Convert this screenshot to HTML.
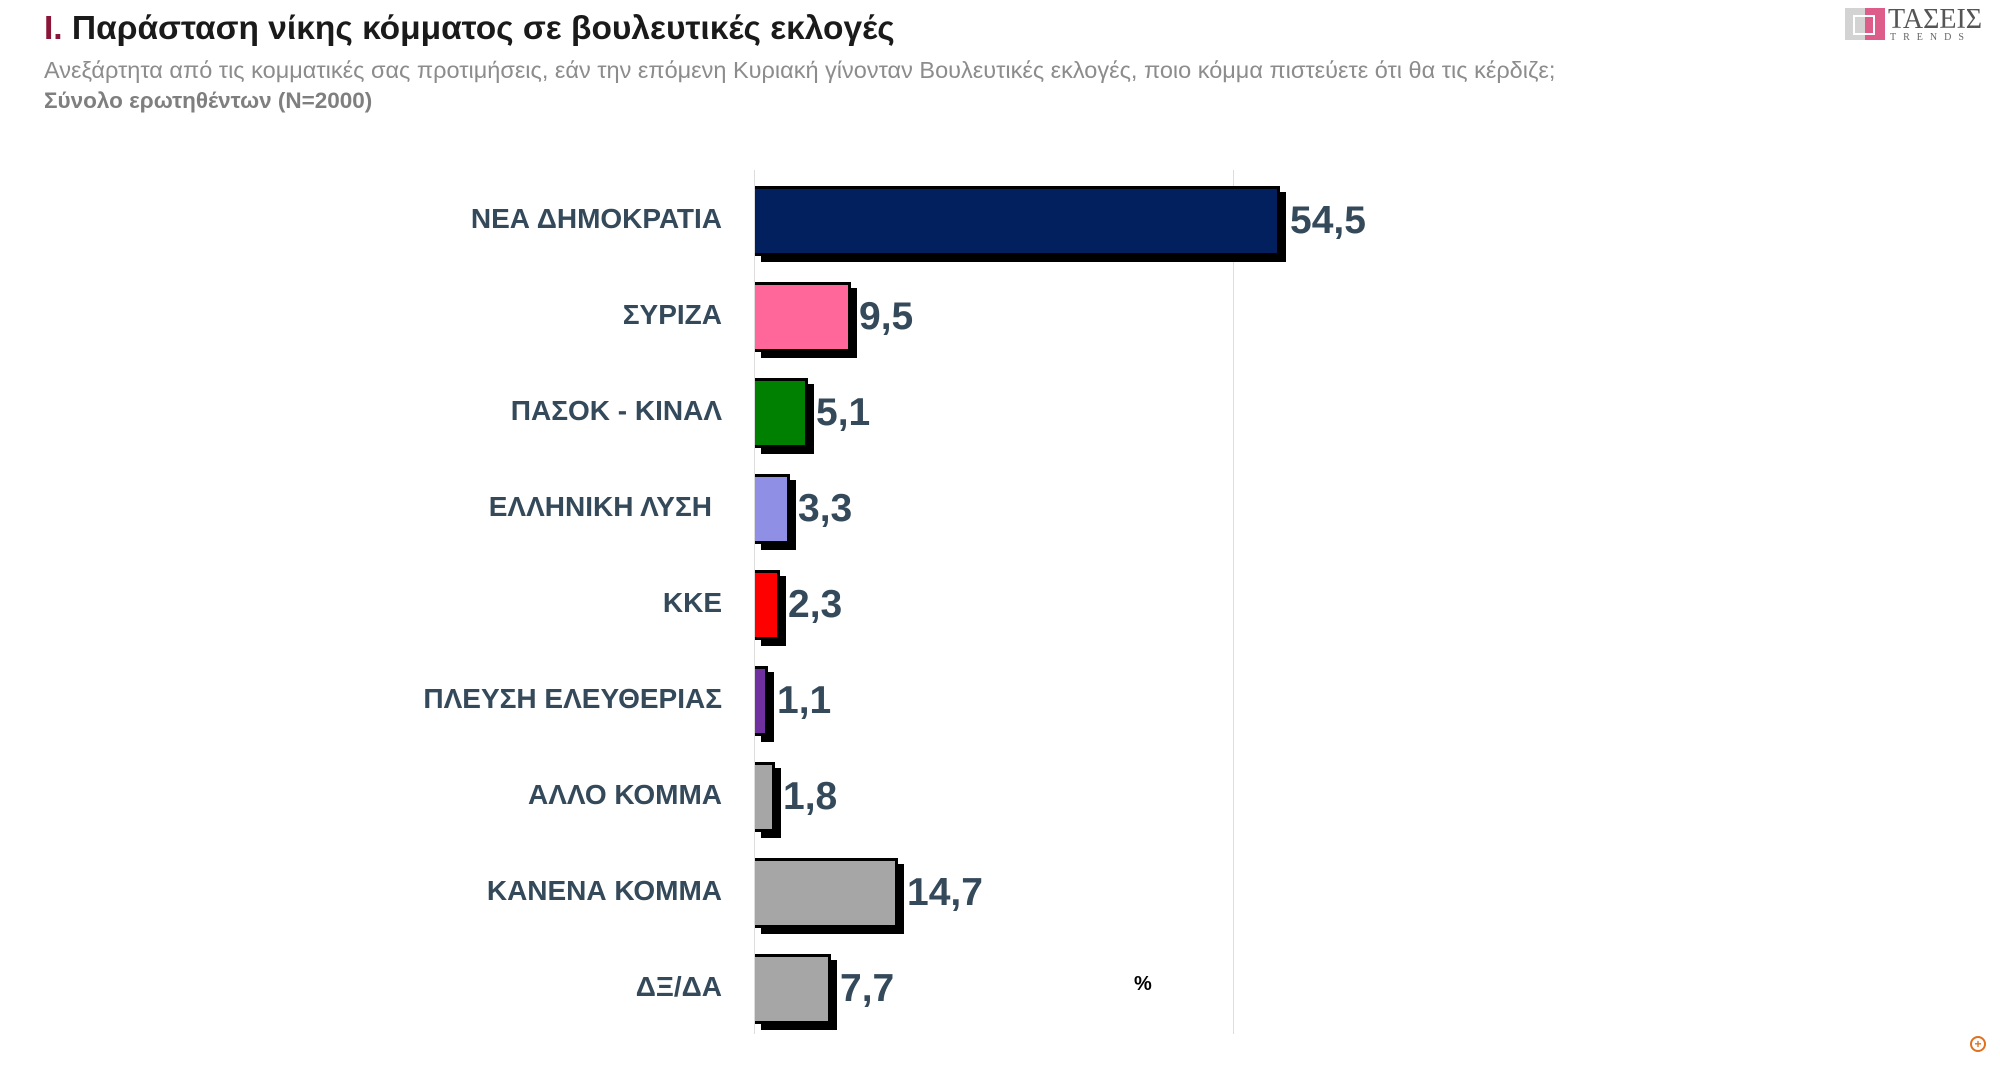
<!DOCTYPE html>
<html><head><meta charset="utf-8"><style>
body{margin:0;width:2000px;height:1068px;background:#fff;position:relative;overflow:hidden;font-family:"Liberation Sans","DejaVu Sans",sans-serif}
.a{position:absolute;white-space:nowrap}
.lab{position:absolute;right:1278px;font-weight:bold;font-size:28px;color:#34495a;transform:translateY(-50%)}
.bar{position:absolute;left:755px;height:70px;border:3px solid #000;border-left:none;box-shadow:6px 6px 0 #000;box-sizing:border-box}
.val{position:absolute;font-weight:bold;font-size:39px;color:#34495a;transform:translateY(-50%)}
</style></head><body>
<div class="a" style="left:44px;top:10px;font-size:33.5px;font-weight:bold;color:#1a1a1a"><span style="color:#8b1538">Ι.</span> Παράσταση νίκης κόμματος σε βουλευτικές εκλογές</div>
<div class="a" style="left:44px;top:57px;font-size:23.5px;color:#8c8c8c">Ανεξάρτητα από τις κομματικές σας προτιμήσεις, εάν την επόμενη Κυριακή γίνονταν Βουλευτικές εκλογές, ποιο κόμμα πιστεύετε ότι θα τις κέρδιζε;</div>
<div class="a" style="left:44px;top:88px;font-size:22.5px;font-weight:bold;color:#7f7f7f">Σύνολο ερωτηθέντων (Ν=2000)</div>
<!-- logo -->
<div class="a" style="left:1845px;top:8px;width:40px;height:32px;background:linear-gradient(90deg,#c8c8c8 50%,#d6336c 50%);opacity:.8"></div>
<div class="a" style="left:1853px;top:15px;width:18px;height:16px;border:2px solid #fff"></div>
<div class="a" style="left:1888px;top:4px;font-family:'Liberation Serif',serif;font-size:28px;color:#555">ΤΑΣΕΙΣ</div>
<div class="a" style="left:1890px;top:32px;font-family:'Liberation Serif',serif;font-size:10px;letter-spacing:7px;color:#666">TRENDS</div>
<!-- axes -->
<div class="a" style="left:754px;top:170px;width:1px;height:864px;background:#ddd"></div>
<div class="a" style="left:1233px;top:170px;width:1px;height:864px;background:#ddd"></div>
<div class="a" style="left:1134px;top:973px;font-size:20px;font-weight:bold;color:#000">%</div>
<div class="a" style="left:1970px;top:1036px;width:12px;height:12px;border:2px solid #e07020;border-radius:50%;color:#e07020;font-size:12px;line-height:12px;text-align:center;font-weight:bold">+</div>

<div class="lab" style="top:219px">ΝΕΑ ΔΗΜΟΚΡΑΤΙΑ</div>
<div class="bar" style="top:186px;width:525px;background:#03205e"></div>
<div class="val" style="top:221px;left:1290px">54,5</div>

<div class="lab" style="top:315px">ΣΥΡΙΖΑ</div>
<div class="bar" style="top:282px;width:96px;background:#ff6699"></div>
<div class="val" style="top:317px;left:859px">9,5</div>

<div class="lab" style="top:411px">ΠΑΣΟΚ - ΚΙΝΑΛ</div>
<div class="bar" style="top:378px;width:53px;background:#008000"></div>
<div class="val" style="top:413px;left:816px">5,1</div>

<div class="lab" style="top:507px;right:1288px">ΕΛΛΗΝΙΚΗ ΛΥΣΗ</div>
<div class="bar" style="top:474px;width:35px;background:#8f8fe6"></div>
<div class="val" style="top:509px;left:798px">3,3</div>

<div class="lab" style="top:603px">ΚΚΕ</div>
<div class="bar" style="top:570px;width:25px;background:#ff0000"></div>
<div class="val" style="top:605px;left:788px">2,3</div>

<div class="lab" style="top:699px">ΠΛΕΥΣΗ ΕΛΕΥΘΕΡΙΑΣ</div>
<div class="bar" style="top:666px;width:13px;background:#7030a0"></div>
<div class="val" style="top:701px;left:777px">1,1</div>

<div class="lab" style="top:795px">ΑΛΛΟ ΚΟΜΜΑ</div>
<div class="bar" style="top:762px;width:20px;background:#a6a6a6"></div>
<div class="val" style="top:797px;left:783px">1,8</div>

<div class="lab" style="top:891px">ΚΑΝΕΝΑ ΚΟΜΜΑ</div>
<div class="bar" style="top:858px;width:143px;background:#a6a6a6"></div>
<div class="val" style="top:893px;left:907px">14,7</div>

<div class="lab" style="top:987px">ΔΞ/ΔΑ</div>
<div class="bar" style="top:954px;width:76px;background:#a6a6a6"></div>
<div class="val" style="top:989px;left:840px">7,7</div>
</body></html>
